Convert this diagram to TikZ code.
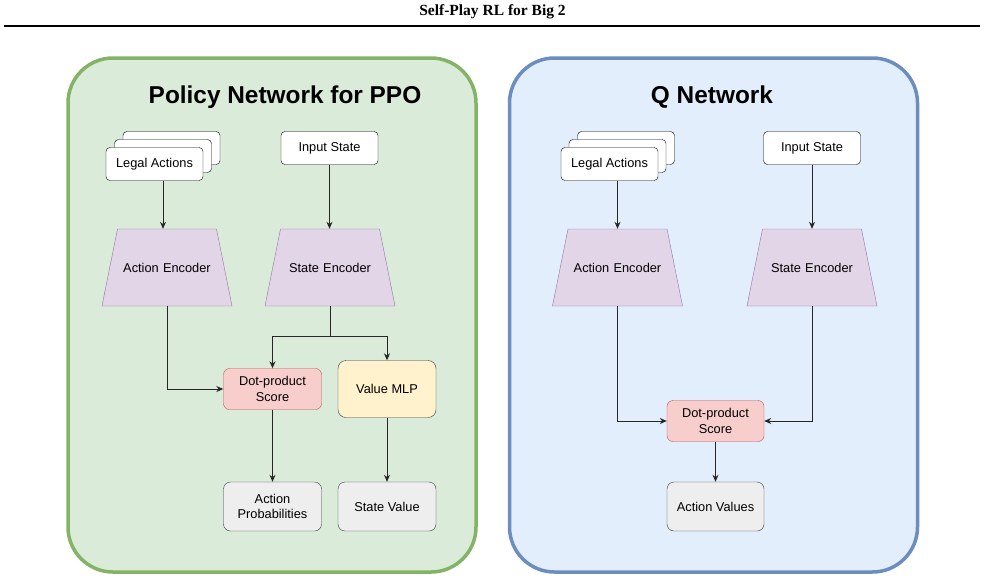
\documentclass[tikz,border=0pt]{standalone}
\usepackage{fontspec}
\setmainfont{Liberation Serif}
\setsansfont{Liberation Sans}
\usetikzlibrary{arrows.meta,positioning,calc,shapes.geometric}
\definecolor{polgreen}{HTML}{82B366}
\definecolor{polgreenbg}{HTML}{D5E8D4}
\definecolor{qblue}{HTML}{6C8EBF}
\definecolor{qbluebg}{HTML}{DAE8FC}
\definecolor{encpurple}{HTML}{9673A6}
\definecolor{encpurplebg}{HTML}{E1D5E7}
\definecolor{scorered}{HTML}{B85450}
\definecolor{scoreredbg}{HTML}{F8CECC}
\definecolor{mlpyellow}{HTML}{FFF2CC}
\definecolor{outgray}{HTML}{EEEEEE}
\definecolor{darkline}{HTML}{36393D}
\tikzset{
  panel/.style={line width=3.5pt, rounded corners=45pt, minimum width=408pt, minimum height=514pt},
  inbox/.style={draw=black, fill=white, rounded corners=4pt, align=center, minimum width=97pt, minimum height=33pt, inner sep=2pt},
  encoder/.style={trapezium, trapezium angle=78.6, draw=encpurple, fill=encpurplebg, text width=95pt, text height=9.2pt, text depth=0pt, inner xsep=2pt, inner ysep=33.9pt, align=center},
  score/.style={draw=scorered, fill=scoreredbg, rounded corners=6pt, align=center, minimum width=98pt, minimum height=41pt, inner sep=2pt},
  mlp/.style={draw=darkline, fill=mlpyellow, rounded corners=8pt, align=center, minimum width=98pt, minimum height=57pt, inner sep=2pt},
  outbox/.style={draw=darkline, fill=outgray, rounded corners=7pt, align=center, minimum width=98pt, minimum height=49pt, inner sep=2pt},
  arrow/.style={-{Stealth[length=7pt,width=6pt]}, line width=0.9pt, draw=black!85},
  paneltitle/.style={font=\sffamily\bfseries\fontsize{24.4}{28}\selectfont}
}

\begin{document}
\begin{tikzpicture}[x=1pt, y=-1pt, font=\sffamily\fontsize{12.8}{15.5}\selectfont]
  \useasboundingbox (0,0) rectangle (985,581);

  % header
  \node[font=\rmfamily\bfseries\fontsize{15.5}{18}\selectfont] (header) at (492.5,12) {Self-Play RL for Big 2};
  \draw[line width=2pt] (4,25.5) -- (980,25.5);

  % panels
  \node[panel, draw=polgreen, fill=polgreenbg!85!white] (ppo) at (272,315) {};
  \node[panel, draw=qblue, fill=qbluebg!75!white] (qnet) at (713.5,315) {};
  \node[paneltitle] (ppotitle) at (285,97) {Policy Network for PPO};
  \node[paneltitle] (qtitle) at (712,97) {Q Network};

  % policy network
  \node[inbox] (laPb) at (171.5,148) {};
  \node[inbox] (laPm) at (163,156) {};
  \node[inbox] (laP) at (154.5,164) {Legal Actions};
  \node[inbox] (isP) at (329.5,148) {Input State};
  \node[encoder] (aeP) at (167,267.5) {Action Encoder};
  \node[encoder] (seP) at (330,267.5) {State Encoder};
  \node[score] (dpP) at (272.5,389) {Dot-product\\Score};
  \node[mlp] (mlpP) at (387,389) {Value MLP};
  \node[outbox] (apP) at (272.5,506.5) {Action\\Probabilities};
  \node[outbox] (svP) at (387,506.5) {State Value};

  \draw[arrow] ([xshift=8.5pt]laP.south) -- ([xshift=8.5pt]laP.south |- aeP.north);
  \draw[arrow] (isP.south) -- (isP.south |- seP.north);
  \draw[arrow] (aeP.south) |- (dpP.west);
  \draw[line width=0.9pt, draw=black!85] (seP.south) -- ++(0,30) coordinate (splitP);
  \draw[arrow] (splitP) -| (dpP.north);
  \draw[arrow] (splitP) -| (mlpP.north);
  \draw[arrow] (dpP) -- (apP);
  \draw[arrow] (mlpP) -- (svP);

  % q network
  \node[inbox] (laQb) at (626,148) {};
  \node[inbox] (laQm) at (617.5,156) {};
  \node[inbox] (laQ) at (609.5,164) {Legal Actions};
  \node[inbox] (isQ) at (812,148) {Input State};
  \node[encoder] (aeQ) at (617.5,267.5) {Action Encoder};
  \node[encoder] (seQ) at (812,267.5) {State Encoder};
  \node[score, minimum width=97pt] (dpQ) at (715.5,421) {Dot-product\\Score};
  \node[outbox, minimum width=97pt] (avQ) at (715.5,506.5) {Action Values};

  \draw[arrow] ([xshift=8pt]laQ.south) -- ([xshift=8pt]laQ.south |- aeQ.north);
  \draw[arrow] (isQ.south) -- (isQ.south |- seQ.north);
  \draw[arrow] (aeQ.south) |- (dpQ.west);
  \draw[arrow] (seQ.south) |- (dpQ.east);
  \draw[arrow] (dpQ) -- (avQ);
\end{tikzpicture}
\end{document}
